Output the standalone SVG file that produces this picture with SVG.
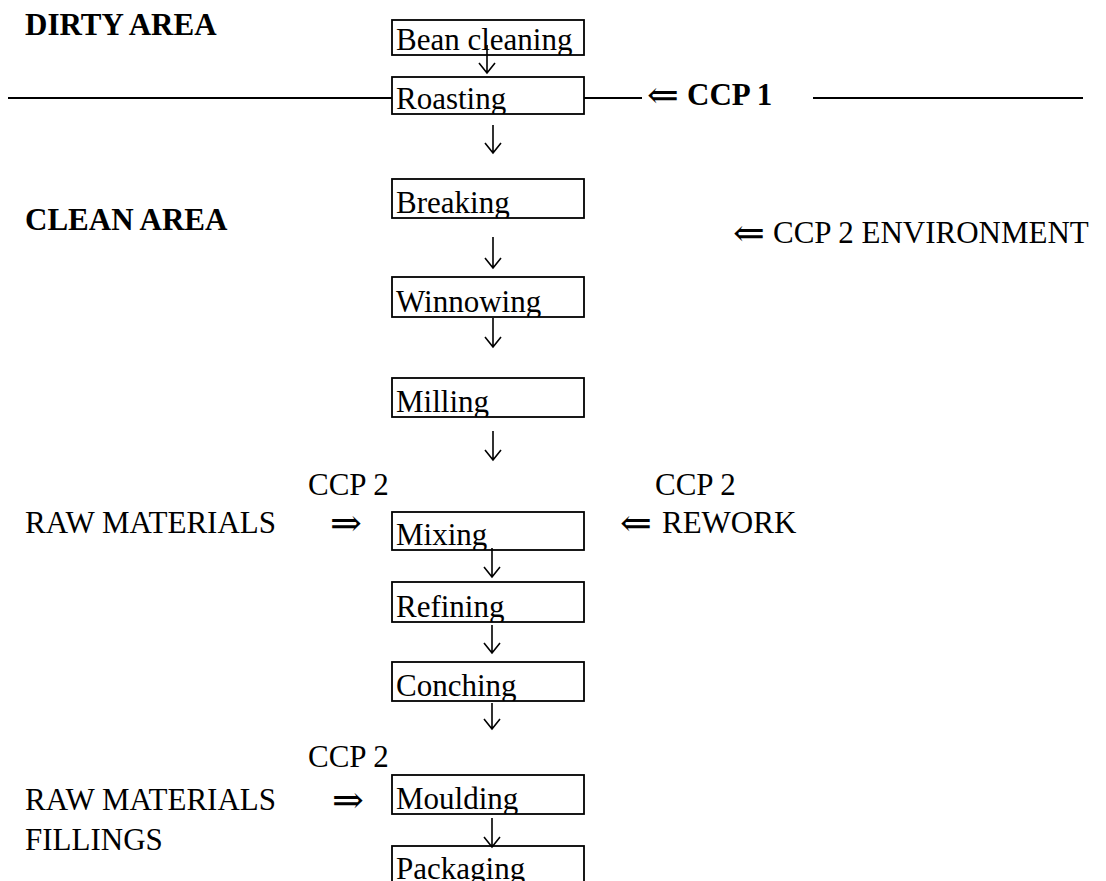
<svg xmlns="http://www.w3.org/2000/svg" width="1106" height="881" viewBox="0 0 1106 881">
<style>
text{font-family:"Liberation Serif","Times New Roman","DejaVu Serif",serif;font-size:31px;fill:#000}
.b{font-weight:bold}
.box{fill:#fff;stroke:#000;stroke-width:1.8}
.ln{fill:none;stroke:#000;stroke-width:1.8}
.ar{fill:none;stroke:#000;stroke-width:1.6}
.sym{font-family:"DejaVu Serif","Liberation Serif",serif;font-size:38px;font-weight:normal}
</style>
<defs>
<clipPath id="c1"><rect x="392" y="20" width="192" height="35"/></clipPath>
<clipPath id="c2"><rect x="392" y="77" width="192" height="37"/></clipPath>
<clipPath id="c3"><rect x="392" y="179" width="192" height="39"/></clipPath>
<clipPath id="c4"><rect x="392" y="277" width="192" height="40"/></clipPath>
<clipPath id="c5"><rect x="392" y="378" width="192" height="39"/></clipPath>
<clipPath id="c6"><rect x="392" y="512" width="192" height="38"/></clipPath>
<clipPath id="c7"><rect x="392" y="582" width="192" height="40"/></clipPath>
<clipPath id="c8"><rect x="392" y="662" width="192" height="39"/></clipPath>
<clipPath id="c9"><rect x="392" y="775" width="192" height="39"/></clipPath>
<clipPath id="c10"><rect x="392" y="846" width="192" height="40"/></clipPath>
</defs>
<rect width="1106" height="881" fill="#fff"/>

<g id="labels">
<text class="b" x="25" y="35">DIRTY AREA</text>
<text class="b" x="25" y="230">CLEAN AREA</text>
<text><tspan class="sym" x="647" y="108">⇐</tspan><tspan class="b" x="687" y="105">CCP 1</tspan></text>
<text><tspan class="sym" x="733" y="246">⇐</tspan><tspan x="773" y="243">CCP 2 ENVIRONMENT</tspan></text>
<text x="308" y="495">CCP 2</text>
<text x="25" y="533">RAW MATERIALS</text>
<text class="sym" x="330" y="536">⇒</text>
<text x="655" y="495">CCP 2</text>
<text><tspan class="sym" x="620" y="536">⇐</tspan><tspan x="662" y="533">REWORK</tspan></text>
<text x="308" y="767">CCP 2</text>
<text x="25" y="810">RAW MATERIALS</text>
<text class="sym" x="332" y="813">⇒</text>
<text x="25" y="850">FILLINGS</text>
</g>

<g id="zone-lines">
<line class="ln" x1="8" y1="98" x2="392" y2="98"/>
<line class="ln" x1="584" y1="98" x2="642" y2="98"/>
<line class="ln" x1="813" y1="98" x2="1083" y2="98"/>
</g>

<g id="bean-cleaning"><rect class="box" x="392" y="20" width="192" height="35"/><text clip-path="url(#c1)" x="396" y="50">Bean cleaning</text></g>
<g id="roasting"><rect class="box" x="392" y="77" width="192" height="37"/><text clip-path="url(#c2)" x="396" y="109">Roasting</text></g>
<g id="breaking"><rect class="box" x="392" y="179" width="192" height="39"/><text clip-path="url(#c3)" x="396" y="213">Breaking</text></g>
<g id="winnowing"><rect class="box" x="392" y="277" width="192" height="40"/><text clip-path="url(#c4)" x="396" y="312">Winnowing</text></g>
<g id="milling"><rect class="box" x="392" y="378" width="192" height="39"/><text clip-path="url(#c5)" x="396" y="412">Milling</text></g>
<g id="mixing"><rect class="box" x="392" y="512" width="192" height="38"/><text clip-path="url(#c6)" x="396" y="545">Mixing</text></g>
<g id="refining"><rect class="box" x="392" y="582" width="192" height="40"/><text clip-path="url(#c7)" x="396" y="617">Refining</text></g>
<g id="conching"><rect class="box" x="392" y="662" width="192" height="39"/><text clip-path="url(#c8)" x="396" y="696">Conching</text></g>
<g id="moulding"><rect class="box" x="392" y="775" width="192" height="39"/><text clip-path="url(#c9)" x="396" y="809">Moulding</text></g>
<g id="packaging"><rect class="box" x="392" y="846" width="192" height="40"/><text clip-path="url(#c10)" x="396" y="879">Packaging</text></g>

<g id="connectors" class="ar">
<path d="M487 45V73M479 63L487 73L495 63"/>
<path d="M493 125V153M485 143L493 153L501 143"/>
<path d="M493 237V268M485 258L493 268L501 258"/>
<path d="M493 318V347M485 337L493 347L501 337"/>
<path d="M493 431V460M485 450L493 460L501 450"/>
<path d="M492 548V577M484 567L492 577L500 567"/>
<path d="M492 625V653M484 643L492 653L500 643"/>
<path d="M492 703V729M484 719L492 729L500 719"/>
<path d="M492 818V847M484 837L492 847L500 837"/>
</g>
</svg>
